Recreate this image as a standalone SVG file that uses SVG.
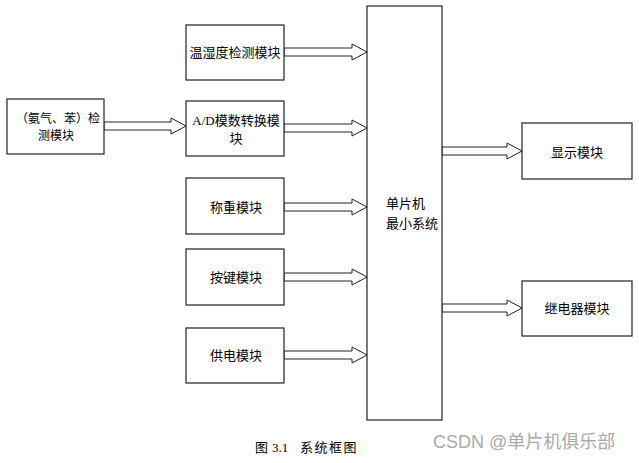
<svg xmlns="http://www.w3.org/2000/svg" width="639" height="463" viewBox="0 0 639 463">
<style>
.box{fill:#fff;stroke:#222;stroke-width:1.2}
.arr{fill:#fff;stroke:#222;stroke-width:1}
.t{font-family:"Noto Sans CJK SC","Liberation Sans",sans-serif;font-size:13px;fill:#000}
.sm{font-size:12px}
.s{font-family:"Liberation Serif",serif}
.wm{font-family:"Liberation Sans","Noto Sans CJK SC",sans-serif;font-size:18px;fill:#aaa}
</style>
<rect width="639" height="463" fill="#fff"/>
<g id="connectors">
<polygon class="arr" points="104,122 171,122 171,118 186,126 171,134 171,130 104,130"/>
<polygon class="arr" points="284,48 352,48 352,44 367,52 352,60 352,56 284,56"/>
<polygon class="arr" points="284,124 352,124 352,120 367,128 352,136 352,132 284,132"/>
<polygon class="arr" points="284,203 352,203 352,199 367,207 352,215 352,211 284,211"/>
<polygon class="arr" points="284,273 352,273 352,269 367,277 352,285 352,281 284,281"/>
<polygon class="arr" points="284,351 352,351 352,347 367,355 352,363 352,359 284,359"/>
<polygon class="arr" points="442,147 507,147 507,143 522,151 507,159 507,155 442,155"/>
<polygon class="arr" points="442,304 507,304 507,300 522,308 507,316 507,312 442,312"/>
</g>
<g id="gas">
<rect class="box" x="7" y="99" width="97" height="55"/>
<text class="t sm" x="58" y="123" text-anchor="middle">（氨气、苯）检</text>
<text class="t sm" x="56" y="140" text-anchor="middle">测模块</text>
</g>
<g id="temp">
<rect class="box" x="186" y="25" width="98" height="55"/>
<text class="t" x="235" y="57" text-anchor="middle">温湿度检测模块</text>
</g>
<g id="ad">
<rect class="box" x="186" y="101" width="98" height="55"/>
<text class="t" x="236" y="124.5" text-anchor="middle"><tspan class="s">A/D</tspan>模数转换模</text>
<text class="t" x="236" y="142.5" text-anchor="middle">块</text>
</g>
<g id="weigh">
<rect class="box" x="186" y="178" width="98" height="56"/>
<text class="t" x="236" y="211.5" text-anchor="middle">称重模块</text>
</g>
<g id="key">
<rect class="box" x="186" y="249" width="98" height="56"/>
<text class="t" x="236" y="281.5" text-anchor="middle">按键模块</text>
</g>
<g id="power">
<rect class="box" x="186" y="328" width="98" height="55"/>
<text class="t" x="236" y="359.5" text-anchor="middle">供电模块</text>
</g>
<g id="mcu">
<rect class="box" x="367" y="6" width="75" height="414"/>
<text class="t" x="386" y="207.5">单片机</text>
<text class="t" x="386" y="227.5">最小系统</text>
</g>
<g id="display">
<rect class="box" x="522" y="123" width="110" height="56"/>
<text class="t" x="577" y="156.5" text-anchor="middle">显示模块</text>
</g>
<g id="relay">
<rect class="box" x="522" y="281" width="110" height="55"/>
<text class="t" x="577" y="312.5" text-anchor="middle">继电器模块</text>
</g>
<text class="t" x="255" y="451.5">图 <tspan class="s" x="272">3.1</tspan><tspan x="300" letter-spacing="1.5">系统框图</tspan></text>
<text class="wm" x="433" y="447.5">CSDN @单片机俱乐部</text>
</svg>
